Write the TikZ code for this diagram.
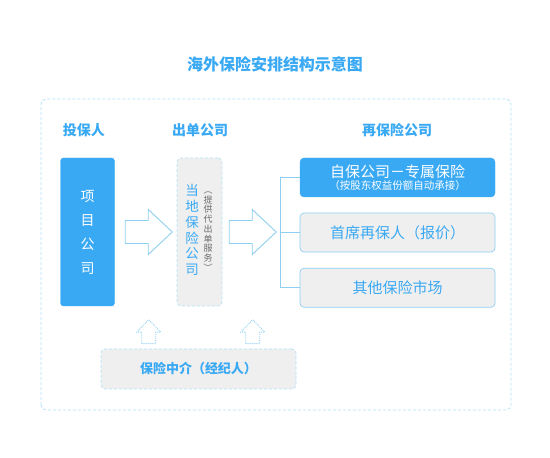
\documentclass[tikz,border=0pt]{standalone}
\usepackage{fontspec}
\setmainfont{Noto Sans CJK SC}
\usetikzlibrary{calc,positioning}
\definecolor{skyblue}{HTML}{3AA9F4}
\definecolor{lineblue}{HTML}{8DD0F3}
\definecolor{paleblue}{HTML}{B3E1F7}
\definecolor{boxgray}{HTML}{EFEFEF}
\definecolor{notegray}{HTML}{6A6A6A}
\newcommand{\fsize}[2]{\fontsize{#1}{#2}\selectfont}
\tikzset{
  heading/.style={
    text=skyblue,
    font=\bfseries\fsize{14}{16}
  },
  frame/.style={
    draw=paleblue,
    dash pattern=on 3pt off 2pt,
    rounded corners=5pt,
    line width=0.8pt
  },
  solidblock/.style={
    rectangle,
    rounded corners=4pt,
    draw=skyblue,
    fill=skyblue,
    text=white,
    align=center,
    inner sep=0pt
  },
  grayblock/.style={
    rectangle,
    rounded corners=4pt,
    draw=lineblue,
    line width=0.7pt,
    fill=boxgray,
    text=skyblue,
    align=center,
    minimum width=195pt,
    minimum height=39pt,
    font=\fsize{15}{18}
  },
  dashblock/.style={
    grayblock,
    draw=paleblue,
    dash pattern=on 3pt off 2pt
  },
  vtext/.style={
    align=center,
    inner sep=0pt,
    text=skyblue,
    font=\fsize{13.5}{15.7}
  },
  vnote/.style={
    align=center,
    inner sep=0pt,
    text=notegray,
    font=\fsize{9}{9.7}
  },
  fatarrowline/.style={
    draw=lineblue,
    fill=white,
    line width=0.9pt,
    line join=miter
  },
  uparrowline/.style={
    draw=lineblue,
    line width=0.8pt,
    dash pattern=on 1pt off 1pt
  },
  link/.style={
    draw=lineblue,
    line width=0.8pt
  }
}
\newcommand{\fatarrow}[1]{%
  \draw[fatarrowline] ([shift={(-23.5,-11.5)}]#1) -- ++(23,0) -- ++(0,-11)
    -- ++(24,22.5) -- ++(-24,22.5) -- ++(0,-11) -- ++(-23,0) -- cycle;}
\newcommand{\hollowup}[1]{%
  \draw[uparrowline] ([xshift=-7pt]#1) -- ++(0,11.5) -- ++(-5,0)
    -- ++(12,12.5) -- ++(12,-12.5) -- ++(-5,0) -- ++(0,-11.5) -- cycle;}

\begin{document}
\begin{tikzpicture}[x=1pt, y=1pt]
  \useasboundingbox (0,0) rectangle (550,458);
  \node[text=skyblue, font=\bfseries\fsize{16}{18}] (title) at (275,394) {海外保险安排结构示意图};
  \draw[frame] (41,48) rectangle (511,359);

  \node[heading] (insured) at (84,328) {投保人};
  \node[heading] (issuer) at (200,328) {出单公司};
  \node[heading] (reins) at (397,328) {再保险公司};

  \node[solidblock, rounded corners=3pt, minimum width=54pt, minimum height=148pt,
        font=\fsize{14}{24}] (proj) at (87.5,226) {项\\目\\公\\司};
  \node[dashblock, minimum width=45pt, minimum height=148pt] (pol) at (199.5,226) {};
  \node[vtext] (polname) at ([shift={(-7.5,2)}]pol.center) {当\\地\\保\\险\\公\\司};
  \node[vnote] (polnote) at ([shift={(8.5,0.5)}]pol.center) {︵\\提\\供\\代\\出\\单\\服\\务\\︶};

  \node[solidblock, minimum width=195pt, minimum height=39pt] (self) at (397.5,280.5)
    {{\fsize{15}{17}自保公司－专属保险}\\[0.5pt]{\fsize{10.5}{11.5}（按股东权益份额自动承接）}};
  \node[grayblock, below=15.5pt of self] (lead) {首席再保人（报价）};
  \node[grayblock, below=15.5pt of lead] (other) {其他保险市场};

  \node[dashblock, minimum height=40pt, font=\bfseries\fsize{13}{15}] (broker) at (198.5,89) {保险中介（经纪人）};

  \coordinate (fork) at ($(self.west)+(-19,0)$);
  \coordinate (gap1) at ($(proj.east)!0.55!(pol.west)$);
  \coordinate (gap2) at ($(pol.east)!0.52!(pol.east -| fork)$);
  \coordinate (foot1) at ([yshift=5pt]broker.north -| gap1);
  \coordinate (foot2) at ([yshift=5pt]broker.north -| gap2);

  \fatarrow{gap1}
  \fatarrow{gap2}
  \hollowup{foot1}
  \hollowup{foot2}

  \draw[link] (self.west) -- (fork) |- (other.west);
  \draw[link] (lead.west) -- (lead.west -| fork);
\end{tikzpicture}
\end{document}
